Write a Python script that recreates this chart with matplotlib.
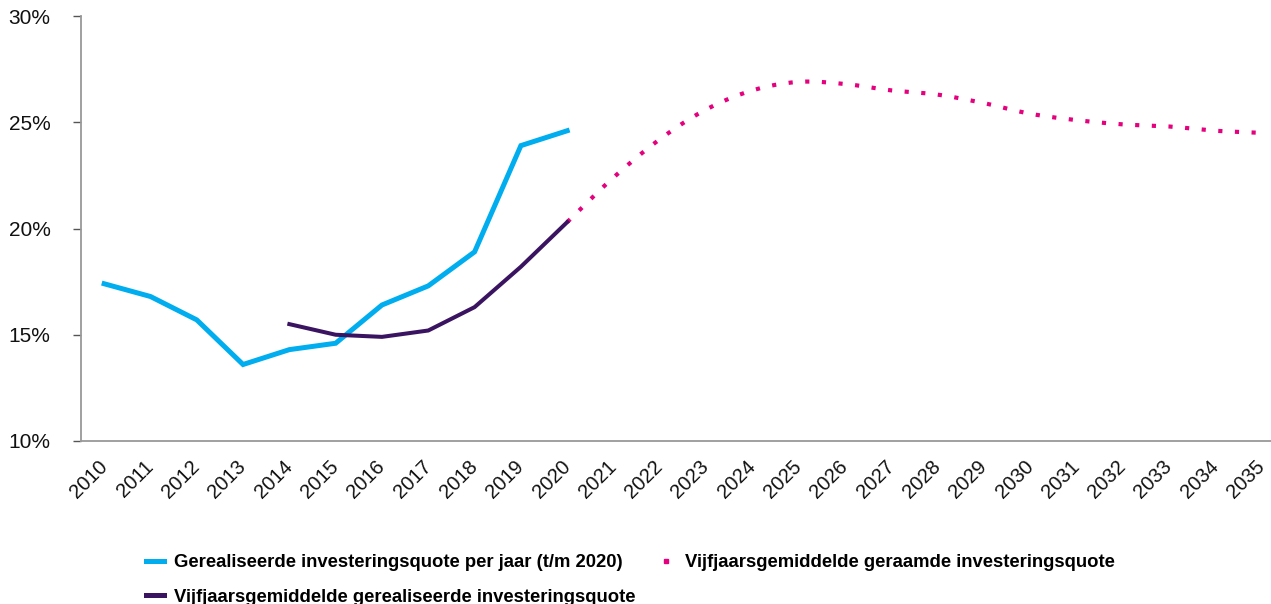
# Investeringsquote grafiek
import matplotlib
matplotlib.use("Agg")
import matplotlib.pyplot as plt
from matplotlib.lines import Line2D
from matplotlib import font_manager
import numpy as np

# Data
jaren = list(range(2010, 2036))
gerealiseerd_jaren = list(range(2010, 2021))
gerealiseerd = [17.4, 16.8, 15.7, 13.6, 14.3, 14.6, 16.4, 17.3, 18.9, 23.9, 24.6]
gem_real_jaren = list(range(2014, 2021))
gem_real = [15.5, 15.0, 14.9, 15.2, 16.3, 18.2, 20.3]
gem_raming_jaren = list(range(2020, 2036))
gem_raming = [20.3, 22.4, 24.2, 25.6, 26.5, 26.9, 26.8, 26.5, 26.3, 25.9,
              25.4, 25.1, 24.9, 24.8, 24.6, 24.5]
y_ticks = [10, 15, 20, 25, 30]

blauw = "#00ADEF"
paars = "#3A1461"
roze = "#E5007D"

namen = [f.name for f in font_manager.fontManager.ttflist]
font = "Liberation Sans Narrow" if "Liberation Sans Narrow" in namen else "Liberation Sans"
plt.rcParams["font.family"] = ["Liberation Sans", "DejaVu Sans"]


def glad(x, y, n=12):
    # Catmull-Rom om de lijn vloeiend te tekenen
    x = np.asarray(x, float)
    y = np.asarray(y, float)
    px = np.concatenate([[2 * x[0] - x[1]], x, [2 * x[-1] - x[-2]]])
    py = np.concatenate([[2 * y[0] - y[1]], y, [2 * y[-1] - y[-2]]])
    xs, ys = [], []
    t = np.linspace(0, 1, n, endpoint=False)
    for i in range(1, len(px) - 2):
        for p, q in ((px, xs), (py, ys)):
            p0, p1, p2, p3 = p[i - 1], p[i], p[i + 1], p[i + 2]
            q.extend(0.5 * (2 * p1 + (-p0 + p2) * t + (2 * p0 - 5 * p1 + 4 * p2 - p3) * t ** 2
                            + (-p0 + 3 * p1 - 3 * p2 + p3) * t ** 3))
    xs.append(x[-1])
    ys.append(y[-1])
    return np.array(xs), np.array(ys)


fig = plt.figure(figsize=(12.71, 6.04), dpi=100)
ax = fig.add_axes([81 / 1271, 163 / 604, 1190 / 1271, 425 / 604])

idx = {j: i for i, j in enumerate(jaren)}

# Geraamd (gestippeld, vloeiend)
gx, gy = glad([idx[j] for j in gem_raming_jaren], gem_raming)
ax.plot(gx, gy, color=roze, lw=3.0, dashes=(1, 3.0), dash_capstyle="butt", zorder=2)

ax.plot([idx[j] for j in gerealiseerd_jaren], gerealiseerd, color=blauw, lw=3.6,
        solid_joinstyle="miter", zorder=3)
ax.plot([idx[j] for j in gem_real_jaren], gem_real, color=paars, lw=2.9,
        solid_joinstyle="miter", zorder=4)

ax.set_xlim(-0.5, 25.2)
ax.set_ylim(10, 30)
ax.set_yticks(y_ticks)
ax.set_yticklabels([f"{v}%" for v in y_ticks], fontsize=15, color="#111111",
                   va="center_baseline")
ax.set_xticks(range(len(jaren)))
ax.set_xticklabels([str(j) for j in jaren], rotation=45, ha="right", va="center",
                   rotation_mode="anchor", fontsize=14.5, color="#111111")
ax.tick_params(axis="x", length=0, pad=16)
ax.tick_params(axis="y", length=6, width=1, color="#555555", pad=16)

for s in ["top", "right"]:
    ax.spines[s].set_visible(False)
ax.spines["left"].set_color("#999999")
ax.spines["bottom"].set_color("#999999")
ax.spines["left"].set_linewidth(1.3)
ax.spines["bottom"].set_linewidth(1.3)

handles = [
    Line2D([], [], color=blauw, lw=3.6),
    Line2D([], [], color=paars, lw=3.6),
    Line2D([], [], color=roze, linestyle="none", marker="s", markersize=3),
]
labels = [
    "Gerealiseerde investeringsquote per jaar (t/m 2020)",
    "Vijfjaarsgemiddelde gerealiseerde investeringsquote",
    "Vijfjaarsgemiddelde geraamde investeringsquote",
]
fig.legend(handles, labels, loc="upper left", bbox_to_anchor=(146 / 1271, 1 - 554 / 604),
           ncol=2, frameon=False, handlelength=0.95, handletextpad=0.55, columnspacing=1.2,
           labelspacing=0.95, prop={"family": font, "weight": "bold", "size": 13.3},
           borderaxespad=0, borderpad=0)

fig.savefig("out.png", dpi=100)
